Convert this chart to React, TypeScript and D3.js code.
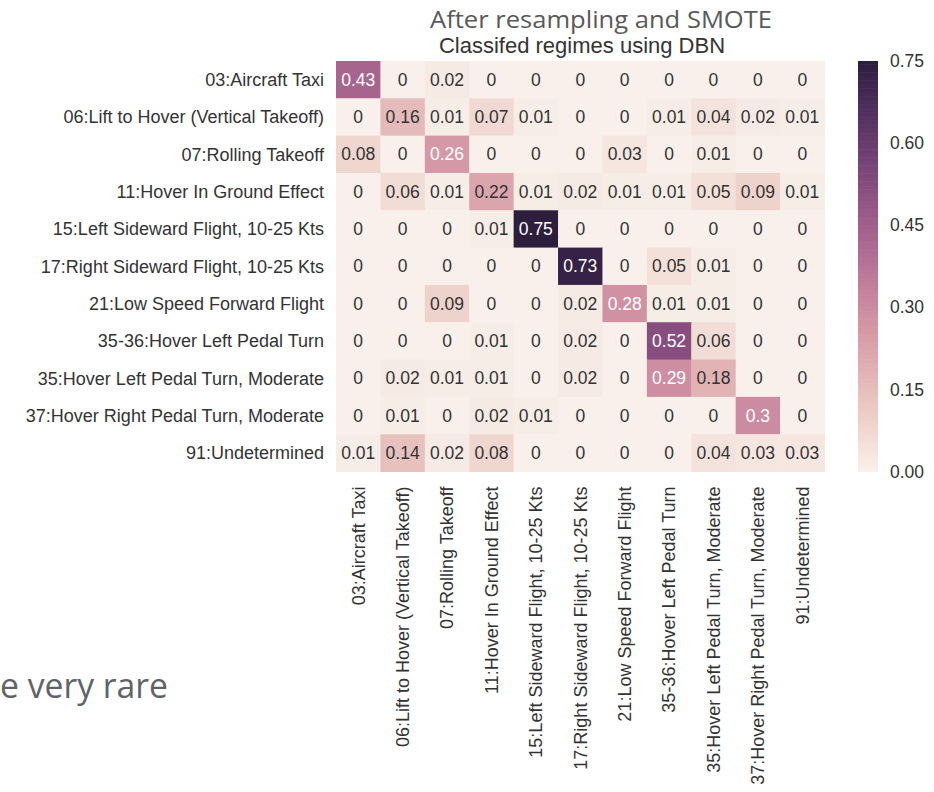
import * as d3 from "d3";

const regimes = [
  "03:Aircraft Taxi",
  "06:Lift to Hover (Vertical Takeoff)",
  "07:Rolling Takeoff",
  "11:Hover In Ground Effect",
  "15:Left Sideward Flight, 10-25 Kts",
  "17:Right Sideward Flight, 10-25 Kts",
  "21:Low Speed Forward Flight",
  "35-36:Hover Left Pedal Turn",
  "35:Hover Left Pedal Turn, Moderate",
  "37:Hover Right Pedal Turn, Moderate",
  "91:Undetermined",
];

// rows = true regime, columns = predicted regime
const row03 = [0.43, 0, 0.02, 0, 0, 0, 0, 0, 0, 0, 0];
const row06 = [0, 0.16, 0.01, 0.07, 0.01, 0, 0, 0.01, 0.04, 0.02, 0.01];
const row07 = [0.08, 0, 0.26, 0, 0, 0, 0.03, 0, 0.01, 0, 0];
const row11 = [0, 0.06, 0.01, 0.22, 0.01, 0.02, 0.01, 0.01, 0.05, 0.09, 0.01];
const row15 = [0, 0, 0, 0.01, 0.75, 0, 0, 0, 0, 0, 0];
const row17 = [0, 0, 0, 0, 0, 0.73, 0, 0.05, 0.01, 0, 0];
const row21 = [0, 0, 0.09, 0, 0, 0.02, 0.28, 0.01, 0.01, 0, 0];
const row3536 = [0, 0, 0, 0.01, 0, 0.02, 0, 0.52, 0.06, 0, 0];
const row35 = [0, 0.02, 0.01, 0.01, 0, 0.02, 0, 0.29, 0.18, 0, 0];
const row37 = [0, 0.01, 0, 0.02, 0.01, 0, 0, 0, 0, 0.3, 0];
const row91 = [0.01, 0.14, 0.02, 0.08, 0, 0, 0, 0, 0.04, 0.03, 0.03];

const matrix = [row03, row06, row07, row11, row15, row17, row21, row3536, row35, row37, row91];
const barTicks = [0, 0.15, 0.3, 0.45, 0.6, 0.75];

// seaborn cubehelix_palette(light=.95, as_cmap=True)
const cubehelix = (x: number) => {
  const start = 0, rot = 0.4, hue = 0.8, gamma = 1;
  const xg = Math.pow(x, gamma);
  const a = (hue * xg * (1 - xg)) / 2;
  const phi = 2 * Math.PI * (start / 3 + rot * x);
  const ch = (p0: number, p1: number) =>
    Math.max(0, Math.min(1, xg + a * (p0 * Math.cos(phi) + p1 * Math.sin(phi))));
  return [ch(-0.14861, 1.78277), ch(-0.29227, -0.90649), ch(1.97294, 0)];
};
const toPos = d3.scaleLinear().domain([0, 0.75]).range([0.95, 0.15]).clamp(true);
const rgbOf = (v: number) => cubehelix(toPos(v));
const colorOf = (v: number) => {
  const [r, g, b] = rgbOf(v);
  return d3.rgb(r * 255, g * 255, b * 255).formatHex();
};
const textColorOf = (v: number) => {
  const lin = rgbOf(v).map((c) => (c <= 0.03928 ? c / 12.92 : Math.pow((c + 0.055) / 1.055, 2.4)));
  const lum = 0.2126 * lin[0] + 0.7152 * lin[1] + 0.0722 * lin[2];
  return lum > 0.408 ? "#333333" : "#ffffff";
};

const left = 336, right = 824.5, top = 61, bottom = 471.5;
const font = "'Liberation Sans', Arial, sans-serif";
const ink = "#333333";

export default function App() {
  const x = d3.scaleBand().domain(regimes).range([left, right]);
  const y = d3.scaleBand().domain(regimes).range([top, bottom]);
  const cy = d3.scaleLinear().domain([0, 0.75]).range([bottom, top]);
  const steps = d3.range(0, 256).map((i) => (i / 255) * 0.75);
  const stepH = (bottom - top) / 256;

  return (
    <div style={{ position: "absolute", left: 0, top: 0 }}>
      <svg width={934} height={792} style={{ display: "block", background: "#fff" }}>
        <text x={601} y={28} textAnchor="middle" fontFamily="'Open Sans', sans-serif" fontSize={24} fill="#595959" textLength={342} lengthAdjust="spacingAndGlyphs">
          After resampling and SMOTE
        </text>
        <text x={582} y={53} textAnchor="middle" fontFamily={font} fontSize={22} fill={ink}>
          Classifed regimes using DBN
        </text>

        {matrix.map((row, i) =>
          row.map((v, j) => (
            <rect key={`c${i}-${j}`} x={x(regimes[j])} y={y(regimes[i])} width={x.bandwidth() + 0.5} height={y.bandwidth() + 0.5} fill={colorOf(v)} />
          ))
        )}
        {matrix.map((row, i) =>
          row.map((v, j) => (
            <text key={`t${i}-${j}`} x={x(regimes[j])! + x.bandwidth() / 2} y={y(regimes[i])! + y.bandwidth() / 2} dy="0.35em" textAnchor="middle" fontFamily={font} fontSize={17.5} fill={textColorOf(v)}>
              {String(v)}
            </text>
          ))
        )}

        {regimes.map((r) => (
          <text key={`y${r}`} x={left - 12} y={y(r)! + y.bandwidth() / 2} dy="0.35em" textAnchor="end" fontFamily={font} fontSize={18} fill={ink}>
            {r}
          </text>
        ))}
        {regimes.map((r) => (
          <text key={`x${r}`} transform={`translate(${x(r)! + x.bandwidth() / 2},${bottom + 15}) rotate(-90)`} dy="0.35em" textAnchor="end" fontFamily={font} fontSize={18} fill={ink}>
            {r}
          </text>
        ))}

        {steps.map((v, i) => (
          <rect key={`b${i}`} x={858} width={20} y={bottom - (i + 1) * stepH} height={stepH + 0.6} fill={colorOf(v)} />
        ))}
        {barTicks.map((t) => (
          <text key={`bt${t}`} x={890} y={cy(t)} dy="0.35em" fontFamily={font} fontSize={17.5} fill={ink}>
            {d3.format(".2f")(t)}
          </text>
        ))}

        <text x={0} y={698} fontFamily="'Open Sans', sans-serif" fontSize={34} fill="#5f6368" textLength={168} lengthAdjust="spacingAndGlyphs">
          e very rare
        </text>
      </svg>
    </div>
  );
}
